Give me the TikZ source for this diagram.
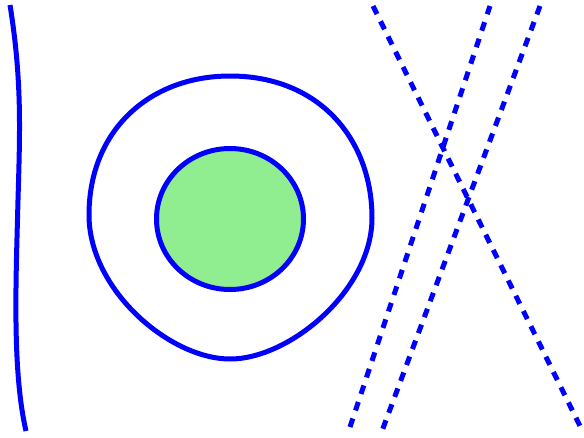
\documentclass[tikz,border=0pt]{standalone}
\begin{document}
\begin{tikzpicture}[x=1pt,y=-1pt,
  stroke/.style={draw=blue,line width=5pt},
  dashline/.style={stroke,dash pattern=on 9pt off 8pt}]
\useasboundingbox (0,0) rectangle (584,437);
% left wavy line
\draw[stroke] (10,5) .. controls (22,80) and (20,130) .. (18,200) .. controls (16,280) and (12,370) .. (26,431);
% outer closed curve
\draw[stroke] (230,76) .. controls (320,76) and (372,140) .. (372,218)
  .. controls (372,290) and (290,359) .. (230,359)
  .. controls (170,359) and (89,290) .. (89,215)
  .. controls (89,130) and (150,76) .. (230,76) -- cycle;
% green circle
\draw[stroke,fill={rgb,255:red,144;green,238;blue,144}] (230,219) ellipse [x radius=73.5,y radius=70.5];
% dashed lines
\draw[dashline] (373,6) -- (582,430);
\draw[dashline,dash pattern=on 9pt off 8.4pt] (350,427) -- (490,6);
\draw[dashline] (540,6) -- (382,431);
\end{tikzpicture}
\end{document}
